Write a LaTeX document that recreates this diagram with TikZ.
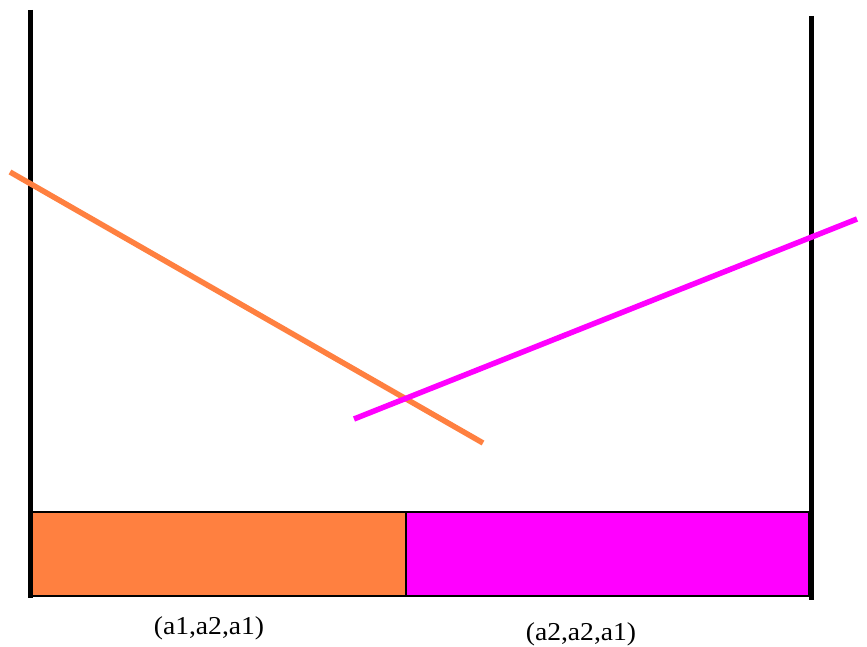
\documentclass[tikz,border=0pt]{standalone}
\usepackage{fontspec}
\setmainfont{Liberation Serif}
\definecolor{orng}{RGB}{255,128,64}
\definecolor{mgnt}{RGB}{255,0,255}
\begin{document}
\begin{tikzpicture}[x=1pt,y=-1pt,
  wall/.style={line width=5pt},
  ray/.style={line width=5.5pt},
  binbox/.style={draw=black,line width=1.6pt},
  lbl/.style={font=\fontsize{23}{25}\selectfont,inner sep=0pt}]
\useasboundingbox (0,0) rectangle (867,647);
\fill[white] (0,0) rectangle (867,647);
\fill[orng] (30,512) rectangle (406,596);
\fill[mgnt] (406,512) rectangle (809,596);
\draw[binbox] (30,512) rectangle (406,596);
\draw[binbox] (406,512) rectangle (809,596);
\coordinate (lt) at (30,10);
\coordinate (lb) at (30,598);
\coordinate (rt) at (811,16);
\coordinate (rb) at (811,600);
\draw[wall] (lt) -- (lb);
\draw[wall] (rt) -- (rb);
\coordinate (o1) at (10,172);
\coordinate (o2) at (483,443);
\coordinate (m1) at (354,419);
\coordinate (m2) at (857,219);
\draw[ray,orng] (o1) -- (o2);
\draw[ray,mgnt] (m1) -- (m2);
\node[lbl] (la) at (209,628) {\scalebox{1.2}[1.12]{(a1,a2,a1)}};
\node[lbl] (lb2) at (581,634) {\scalebox{1.2}[1.12]{(a2,a2,a1)}};
\end{tikzpicture}
\end{document}
